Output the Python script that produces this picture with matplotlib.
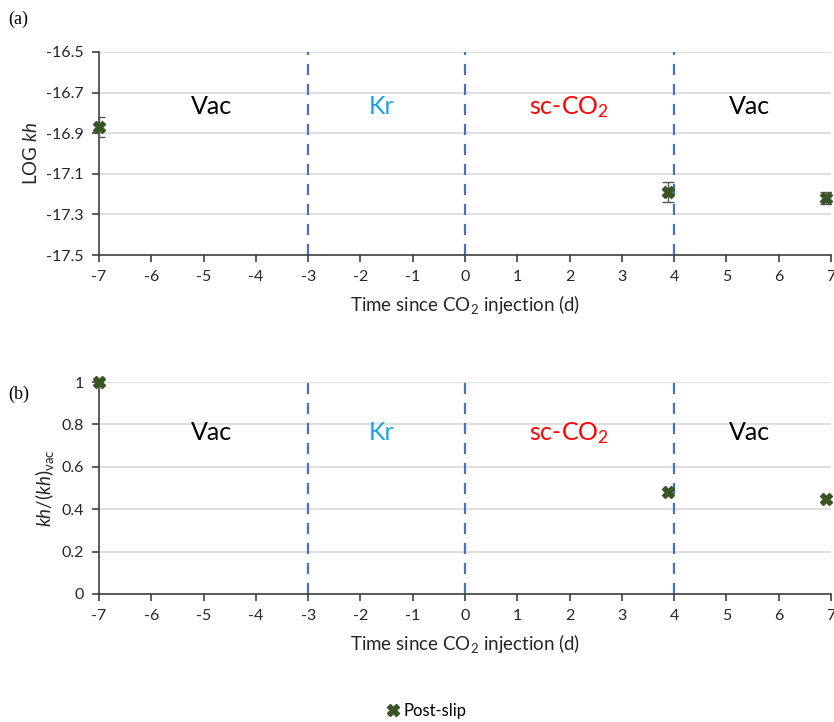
import matplotlib
matplotlib.use('Agg')
import matplotlib.pyplot as plt
from matplotlib.lines import Line2D

plt.rcParams['font.family'] = ['Lato', 'DejaVu Sans']
plt.rcParams['axes.unicode_minus'] = False
plt.rcParams['mathtext.fontset'] = 'custom'
plt.rcParams['mathtext.rm'] = 'Lato'
plt.rcParams['mathtext.it'] = 'Lato:italic'

# data
t = [-7.0, 3.88, 6.9]
log_kh = [-16.87, -17.19, -17.22]
log_kh_err = [0.05, 0.05, 0.03]
kh_norm = [1.0, 0.48, 0.45]
boundaries = [-3, 0, 4]
regions = ['Vac', 'Kr', 'sc-CO$_2$', 'Vac']
region_x = [-4.85, -1.6, 2.0, 5.45]
region_colors = ['black', '#1aa3e0', 'red', 'black']

green = '#375623'
blue = '#4472c4'

fig = plt.figure(figsize=(8.34, 7.22), dpi=100)
ax1 = fig.add_axes([0.1187, 0.6468, 0.8777, 0.2813])
ax2 = fig.add_axes([0.1187, 0.1773, 0.8777, 0.2936])


def style(ax):
    ax.set_xlim(-7, 7)
    ax.set_xticks(range(-7, 8))
    for s in ['top', 'right']:
        ax.spines[s].set_visible(False)
    for s in ['left', 'bottom']:
        ax.spines[s].set_color('#404040')
        ax.spines[s].set_linewidth(1.2)
    ax.yaxis.grid(True, color='#d9d9d9', linewidth=1.2)
    ax.set_axisbelow(True)
    ax.tick_params(direction='out', length=5, width=1.2, color='#404040',
                   labelsize=11.5, labelcolor='#262626', pad=6)
    for b in boundaries:
        ax.axvline(b, color=blue, linestyle=(0, (5, 4)), linewidth=1.6)
    ax.set_xlabel('Time since CO$_2$ injection (d)', fontsize=13.5,
                  color='#262626', labelpad=6)


# panel (a)
style(ax1)
ax1.set_ylim(-17.5, -16.5)
ax1.set_yticks([-17.5, -17.3, -17.1, -16.9, -16.7, -16.5])
ax1.set_yticklabels(['-17.5', '-17.3', '-17.1', '-16.9', '-16.7', '-16.5'])
ax1.errorbar(t, log_kh, yerr=log_kh_err, fmt='none', ecolor='#595959',
             elinewidth=1, capsize=4, capthick=1, zorder=3)
ax1.plot(t, log_kh, linestyle='none', marker='X', markersize=9,
         color=green, clip_on=False, zorder=4)
ax1.set_ylabel('LOG $\\mathit{kh}$', fontsize=13.5, color='#262626')
for x, s, c in zip(region_x, regions, region_colors):
    ax1.text(x, -16.77, s, ha='center', va='center', fontsize=18, color=c)

# panel (b)
style(ax2)
ax2.set_ylim(0, 1)
ax2.set_yticks([0, 0.2, 0.4, 0.6, 0.8, 1.0])
ax2.set_yticklabels(['0', '0.2', '0.4', '0.6', '0.8', '1'])
ax2.plot(t, kh_norm, linestyle='none', marker='X', markersize=9,
         color=green, clip_on=False, zorder=4)
ax2.set_ylabel('$\\mathit{kh}$/($\\mathit{kh}$)$_{\\mathrm{vac}}$', fontsize=13.5,
               color='#262626')
for x, s, c in zip(region_x, regions, region_colors):
    ax2.text(x, 0.76, s, ha='center', va='center', fontsize=18, color=c)

fig.text(0.010, 0.967, '(a)', fontsize=13, family='Liberation Serif')
fig.text(0.010, 0.448, '(b)', fontsize=13, family='Liberation Serif')

handle = Line2D([], [], linestyle='none', marker='X', markersize=9, color=green)
fig.legend([handle], ['Post-slip'], loc='center', bbox_to_anchor=(0.51, 0.015),
           frameon=False, fontsize=12, handletextpad=0.1, handlelength=1.0)

fig.savefig('out.png', dpi=100)
